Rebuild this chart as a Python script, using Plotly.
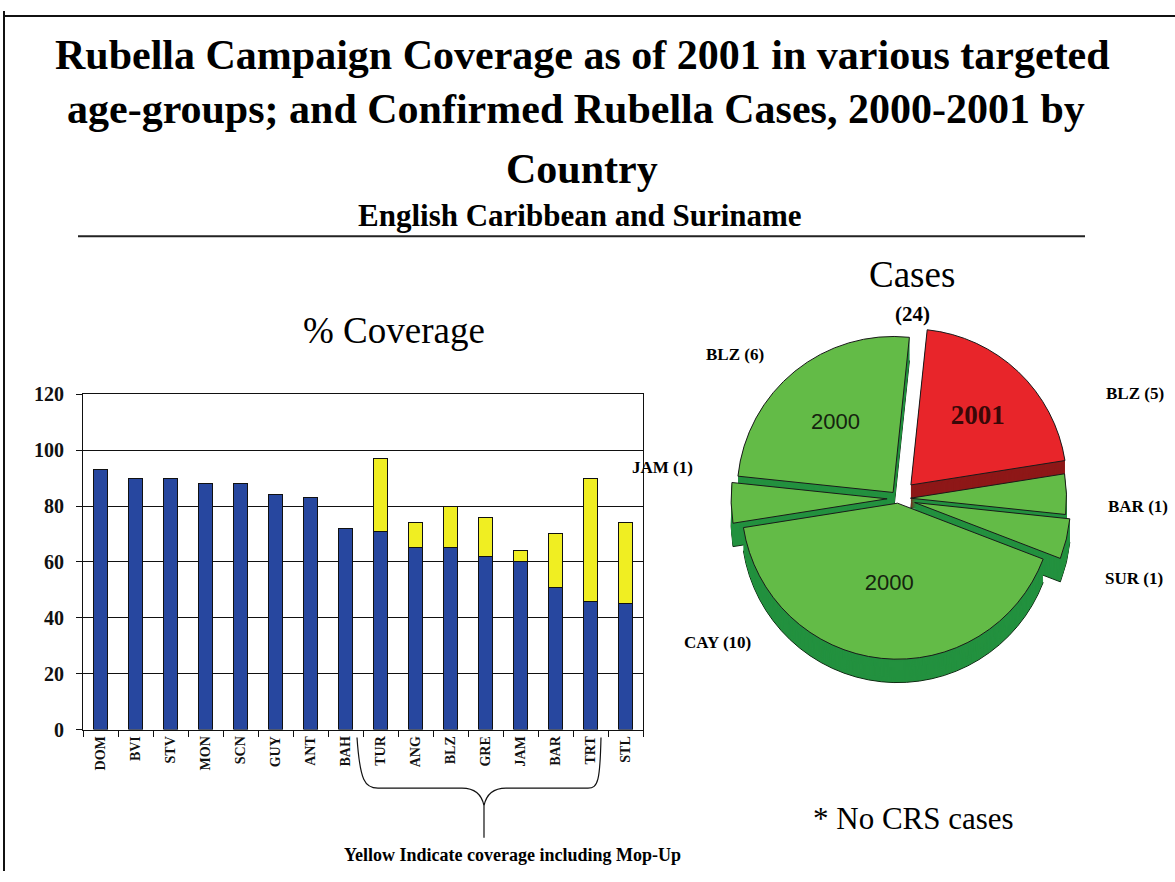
import plotly.graph_objects as go

W, H = 1175, 882

# Coverage by country (%), campaign only and including mop-up
countries = ["DOM", "BVI", "STV", "MON", "SCN", "GUY", "ANT", "BAH",
             "TUR", "ANG", "BLZ", "GRE", "JAM", "BAR", "TRT", "STL"]
coverage_campaign = [93, 90, 90, 88, 88, 84, 83, 72, 71, 65, 65, 62, 60, 51, 46, 45]
coverage_with_mopup = [None, None, None, None, None, None, None, None,
                       97, 74, 80, 76, 64, 70, 90, 74]

# Confirmed rubella cases by country and year
case_countries = ["BLZ", "BAR", "SUR", "CAY", "JAM", "BLZ"]
case_counts = [5, 1, 1, 10, 1, 6]
case_years = ["2001", "2000", "2000", "2000", "2000", "2000"]
case_pull = [0.12, 0.08, 0.11, 0.03, 0.07, 0.05]

mopup_extra = [None if t is None else t - b
               for b, t in zip(coverage_campaign, coverage_with_mopup)]

SERIF = "Liberation Serif, Times New Roman, Times, serif"
SANS = "Liberation Sans, Arial, sans-serif"


def fx(p):
    return p / W


def fy(p):
    return 1 - p / H


fig = go.Figure()

# ---- stacked bars ----
fig.add_trace(go.Bar(
    x=countries, y=coverage_campaign, name="Campaign",
    marker=dict(color="#27479F", line=dict(color="#111111", width=1)),
    hoverinfo="x+y",
))
fig.add_trace(go.Bar(
    x=countries, y=mopup_extra, name="Mop-Up",
    marker=dict(color="#F0EE22", line=dict(color="#111111", width=1)),
    hoverinfo="x+y",
))

# ---- extruded pie: darker copies stacked downward, top face last ----
top_colors = ["#E8252A" if y == "2001" else "#63BB47" for y in case_years]
side_colors = ["#8E1818" if y == "2001" else "#23913F" for y in case_years]
inner_text = [("<b>%s</b>" % y if y == "2001" else y) if c >= 5 else ""
              for y, c in zip(case_years, case_counts)]
slice_ids = [f"{c} {y} {i}" for i, (c, y) in enumerate(zip(case_countries, case_years))]

radius = 160
size = 2 * radius * (1 + max(case_pull))
cx, cy = 898, 500
depth = 24


def pie_domain(shift):
    return dict(
        x=[fx(cx - size / 2), fx(cx + size / 2)],
        y=[fy(cy + size / 2 + shift), fy(cy - size / 2 + shift)],
    )


for k in range(depth, 0, -1):
    fig.add_trace(go.Pie(
        labels=slice_ids, values=case_counts, sort=False,
        direction="clockwise", rotation=6,
        pull=case_pull, domain=pie_domain(k),
        marker=dict(colors=side_colors,
                    line=dict(color="#0c2a10" if k == depth else "rgba(0,0,0,0)",
                              width=1 if k == depth else 0)),
        textinfo="none", hoverinfo="skip", showlegend=False,
    ))

fig.add_trace(go.Pie(
    labels=slice_ids, values=case_counts, sort=False,
    direction="clockwise", rotation=6,
    pull=case_pull, domain=pie_domain(0),
    marker=dict(colors=top_colors, line=dict(color="#1a1a1a", width=1)),
    text=inner_text, texttemplate="%{text}", textposition="inside",
    insidetextorientation="horizontal",
    textfont=dict(
        family=[SERIF if y == "2001" else SANS for y in case_years],
        size=[27 if y == "2001" else 22 for y in case_years],
        color=["#3a0808" if y == "2001" else "#15230f" for y in case_years],
    ),
    hovertemplate="%{label}: %{value}<extra></extra>",
    showlegend=False,
))

# ---- text ----
ann = []


def add_text(x, y, text, size, bold=False, family=SERIF, color="#000000"):
    ann.append(dict(
        x=fx(x), y=fy(y), xref="paper", yref="paper", showarrow=False,
        text=f"<b>{text}</b>" if bold else text,
        font=dict(family=family, size=size, color=color),
        xanchor="center", yanchor="middle",
    ))


add_text(582, 45, "Rubella Campaign Coverage as of 2001 in various targeted", 42, bold=True)
add_text(576, 101, "age-groups; and Confirmed Rubella Cases, 2000-2001 by", 42, bold=True)
add_text(582, 162, "Country", 42, bold=True)
add_text(580, 210, "English Caribbean and Suriname", 31, bold=True)
add_text(394, 328, "% Coverage", 37)
add_text(912, 270, "Cases", 37)
add_text(912, 311, "(24)", 21, bold=True)
add_text(913, 828, "* No CRS cases", 31)
add_text(512, 866, "Yellow Indicate coverage including Mop-Up", 18, bold=True)

pie_labels = {
    "BLZ (6)": (735, 352), "BLZ (5)": (1135, 392), "JAM (1)": (662, 468),
    "BAR (1)": (1138, 508), "SUR (1)": (1134, 582), "CAY (10)": (717, 648),
}
for c, n in zip(case_countries, case_counts):
    lbl = f"{c} ({n})"
    x, y = pie_labels[lbl]
    add_text(x, y, lbl, 17, bold=True)

# ---- decorative lines: frame, rule under subtitle, brace ----
shapes = [
    dict(type="line", xref="paper", yref="paper", x0=fx(4), x1=fx(4), y0=0, y1=1,
         line=dict(color="#111111", width=2)),
    dict(type="line", xref="paper", yref="paper", x0=fx(4), x1=1, y0=fy(5), y1=fy(5),
         line=dict(color="#111111", width=2)),
    dict(type="line", xref="paper", yref="paper", x0=fx(78), x1=fx(1085), y0=fy(231), y1=fy(231),
         line=dict(color="#222222", width=2)),
]


def P(x, y):
    return f"{fx(x):.5f},{fy(y):.5f}"


brace = (f"M {P(357, 745)} C {P(360, 790)} {P(365, 797)} {P(378, 797)} "
         f"L {P(462, 797)} C {P(476, 797)} {P(482, 805)} {P(484, 815)} "
         f"L {P(484, 848)} M {P(484, 815)} "
         f"C {P(486, 805)} {P(492, 797)} {P(506, 797)} "
         f"L {P(588, 797)} C {P(598, 797)} {P(600, 790)} {P(601, 745)}")
shapes.append(dict(type="path", xref="paper", yref="paper", path=brace,
                   line=dict(color="#111111", width=1.2)))

fig.update_layout(
    width=W, height=H,
    margin=dict(l=0, r=0, t=0, b=0),
    paper_bgcolor="white", plot_bgcolor="white",
    barmode="stack", bargap=0.6,
    showlegend=False,
    annotations=ann, shapes=shapes,
    xaxis=dict(
        domain=[fx(83), fx(643)], type="category",
        tickangle=-90, ticks="outside", tickson="boundaries", ticklen=6,
        tickcolor="#111111", showline=True, mirror=True, linecolor="#111111",
        tickfont=dict(family=SERIF, size=14, color="#111111", weight="bold"),
        showgrid=False,
    ),
    yaxis=dict(
        domain=[fy(737), fy(393)], range=[0, 120], dtick=20,
        ticks="outside", ticklen=6, tickcolor="#111111",
        showline=True, mirror=True, linecolor="#111111",
        showgrid=True, gridcolor="#111111", gridwidth=1,
        zeroline=False, ticklabelstandoff=8,
        tickfont=dict(family=SERIF, size=20, color="#111111", weight="bold"),
    ),
    font=dict(family=SERIF),
)

fig.write_html("out.html")
